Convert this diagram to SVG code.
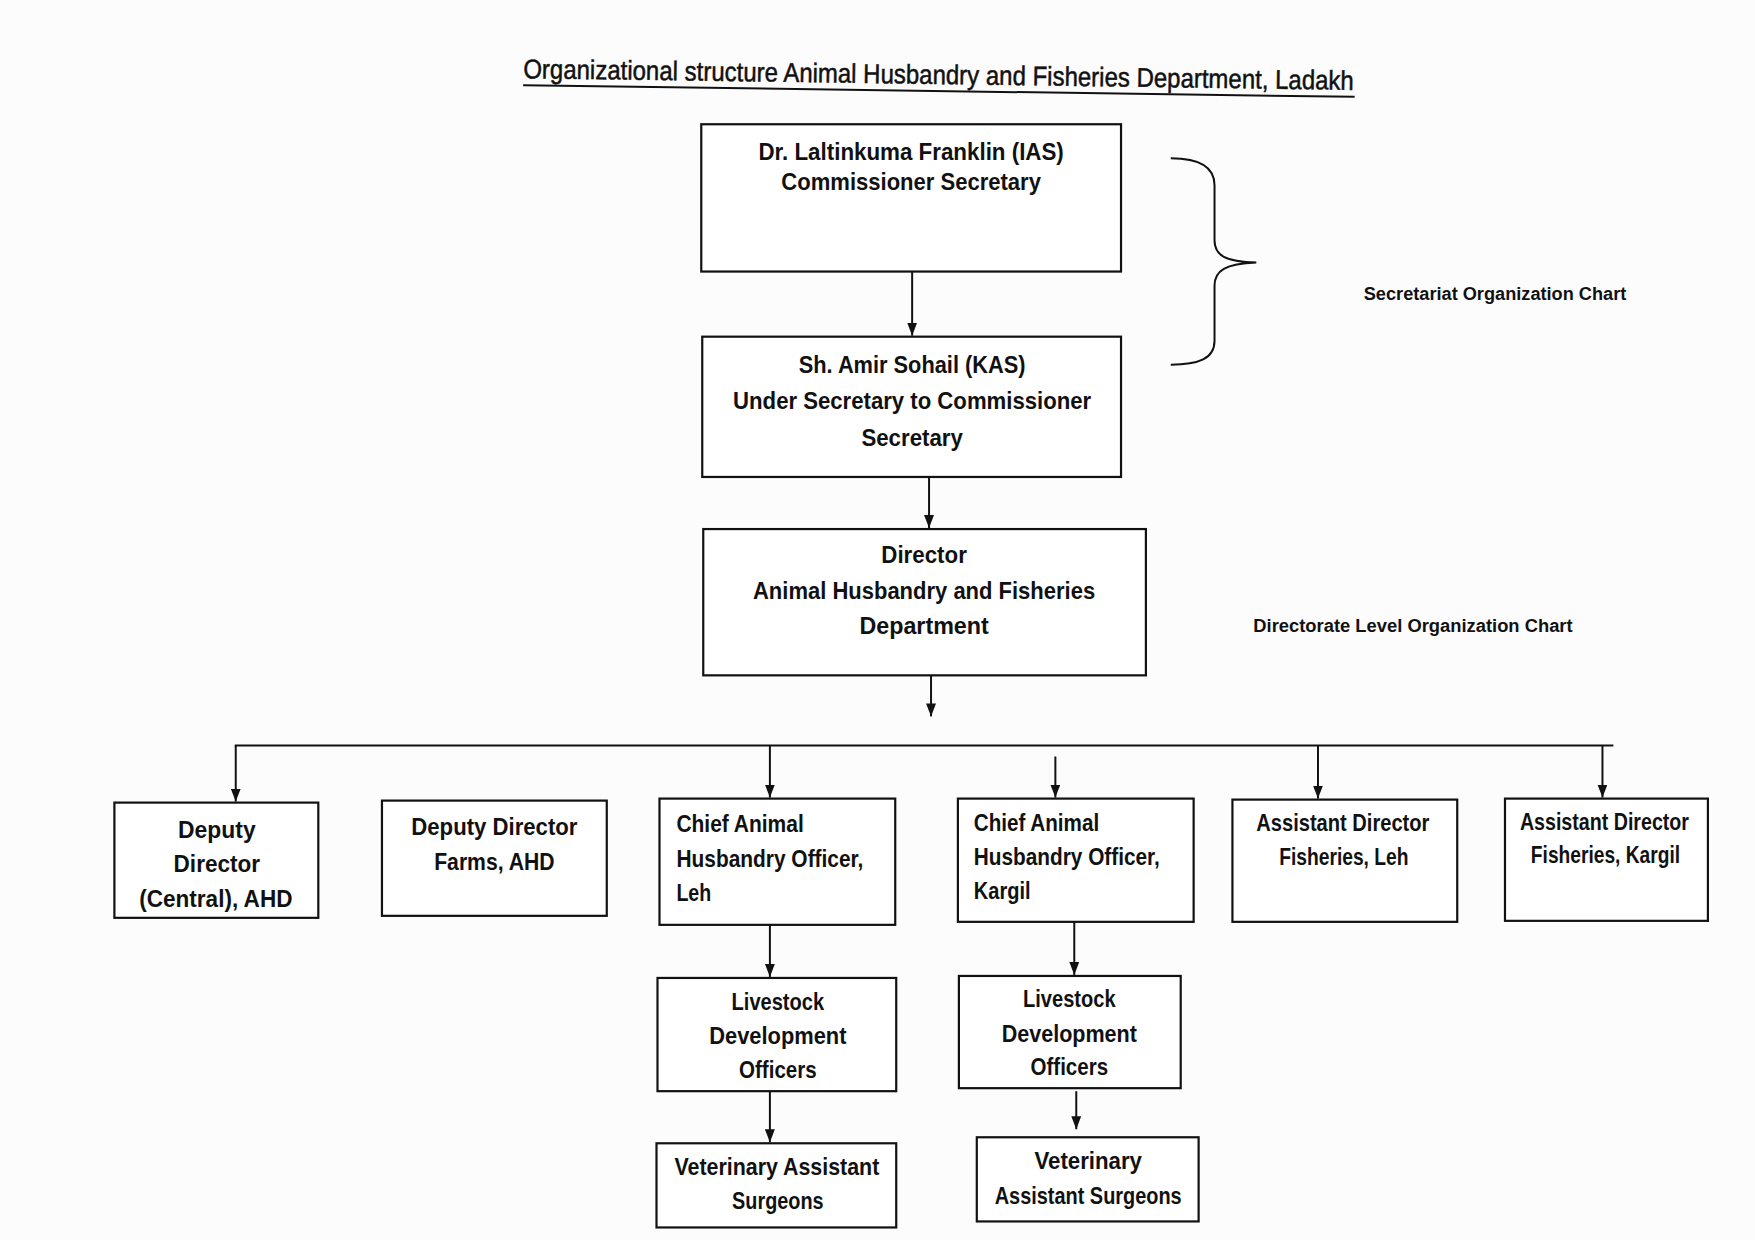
<svg xmlns="http://www.w3.org/2000/svg" width="1755" height="1240" viewBox="0 0 1755 1240">
<style>
.box{fill:#fff;stroke:#111;stroke-width:2.2}
.t{font-family:"Liberation Sans",Arial,sans-serif;font-weight:bold;font-size:23px;fill:#111}
.c{text-anchor:middle}
.lbl{font-family:"Liberation Sans",Arial,sans-serif;font-weight:bold;font-size:18px;fill:#111}
.ln{fill:none;stroke:#111;stroke-width:2}
</style>
<defs>
<marker id="ah" viewBox="0 0 13 10" refX="13" refY="5" markerWidth="13" markerHeight="10" markerUnits="userSpaceOnUse" orient="auto">
<path d="M0,0 L13,5 L0,10 z" fill="#111"/>
</marker>
</defs>
<rect width="1755" height="1240" fill="#fdfcfc"/>
<g id="chart" transform="scale(0.9947 1.002)">
<g id="title" transform="rotate(0.8 526 78)">
<text x="526" y="78" font-family="'Liberation Sans',Arial,sans-serif" font-size="27" fill="#111" stroke="#111" stroke-width="0.5" textLength="835" lengthAdjust="spacingAndGlyphs">Organizational structure Animal Husbandry and Fisheries Department, Ladakh</text>
<line x1="526" y1="85" x2="1362" y2="85" stroke="#111" stroke-width="2"/>
</g>
<g id="connectors">
<line class="ln" x1="917" y1="271" x2="917" y2="335" marker-end="url(#ah)"/>
<line class="ln" x1="934" y1="476" x2="934" y2="527" marker-end="url(#ah)"/>
<line class="ln" x1="936" y1="674" x2="936" y2="715" marker-end="url(#ah)"/>
<line class="ln" x1="236" y1="744" x2="1622" y2="744"/>
<line class="ln" x1="237" y1="744" x2="237" y2="800" marker-end="url(#ah)"/>
<line class="ln" x1="774" y1="744" x2="774" y2="796" marker-end="url(#ah)"/>
<line class="ln" x1="1061" y1="755" x2="1061" y2="796" marker-end="url(#ah)"/>
<line class="ln" x1="1325" y1="744" x2="1325" y2="797" marker-end="url(#ah)"/>
<line class="ln" x1="1611" y1="744" x2="1611" y2="796" marker-end="url(#ah)"/>
<line class="ln" x1="774" y1="923" x2="774" y2="975" marker-end="url(#ah)"/>
<line class="ln" x1="1080" y1="920" x2="1080" y2="973" marker-end="url(#ah)"/>
<line class="ln" x1="774" y1="1089" x2="774" y2="1140" marker-end="url(#ah)"/>
<line class="ln" x1="1082" y1="1089" x2="1082" y2="1127" marker-end="url(#ah)"/>
</g>
<g id="brace">
<path class="ln" d="M1177,158 C1205,158 1221,166 1221,185 L1221,240 C1221,255 1232,261 1263,262 C1232,263 1221,270 1221,285 L1221,340 C1221,358 1205,364 1177,364"/>
</g>
<g id="secretariat-label"><text class="lbl" x="1371" y="299" textLength="264" lengthAdjust="spacingAndGlyphs">Secretariat Organization Chart</text></g>
<g id="directorate-label"><text class="lbl" x="1260" y="631" textLength="321" lengthAdjust="spacingAndGlyphs">Directorate Level Organization Chart</text></g>
<g id="commissioner">
<rect class="box" x="705" y="124" width="422" height="147"/>
<text class="t c" x="916" y="160" textLength="307" lengthAdjust="spacingAndGlyphs">Dr. Laltinkuma Franklin (IAS)</text>
<text class="t c" x="916" y="190" textLength="261" lengthAdjust="spacingAndGlyphs">Commissioner Secretary</text>
</g>
<g id="under-secretary">
<rect class="box" x="706" y="336" width="421" height="140"/>
<text class="t c" x="917" y="372" textLength="228" lengthAdjust="spacingAndGlyphs">Sh. Amir Sohail (KAS)</text>
<text class="t c" x="917" y="408" textLength="360" lengthAdjust="spacingAndGlyphs">Under Secretary to Commissioner</text>
<text class="t c" x="917" y="445" textLength="102" lengthAdjust="spacingAndGlyphs">Secretary</text>
</g>
<g id="director">
<rect class="box" x="707" y="528" width="445" height="146"/>
<text class="t c" x="929" y="562" textLength="86" lengthAdjust="spacingAndGlyphs">Director</text>
<text class="t c" x="929" y="598" textLength="344" lengthAdjust="spacingAndGlyphs">Animal Husbandry and Fisheries</text>
<text class="t c" x="929" y="633" textLength="130" lengthAdjust="spacingAndGlyphs">Department</text>
</g>
<g id="dd-central">
<rect class="box" x="115" y="801" width="205" height="115"/>
<text class="t c" x="218" y="836" textLength="78" lengthAdjust="spacingAndGlyphs">Deputy</text>
<text class="t c" x="218" y="870" textLength="87" lengthAdjust="spacingAndGlyphs">Director</text>
<text class="t c" x="217" y="905" textLength="154" lengthAdjust="spacingAndGlyphs">(Central), AHD</text>
</g>
<g id="dd-farms">
<rect class="box" x="384" y="799" width="226" height="115"/>
<text class="t c" x="497" y="833" textLength="167" lengthAdjust="spacingAndGlyphs">Deputy Director</text>
<text class="t c" x="497" y="868" textLength="121" lengthAdjust="spacingAndGlyphs">Farms, AHD</text>
</g>
<g id="caho-leh">
<rect class="box" x="663" y="797" width="237" height="126"/>
<text class="t" x="680" y="830" textLength="128" lengthAdjust="spacingAndGlyphs">Chief Animal</text>
<text class="t" x="680" y="865" textLength="188" lengthAdjust="spacingAndGlyphs">Husbandry Officer,</text>
<text class="t" x="680" y="899" textLength="35" lengthAdjust="spacingAndGlyphs">Leh</text>
</g>
<g id="caho-kargil">
<rect class="box" x="963" y="797" width="237" height="123"/>
<text class="t" x="979" y="829" textLength="126" lengthAdjust="spacingAndGlyphs">Chief Animal</text>
<text class="t" x="979" y="863" textLength="187" lengthAdjust="spacingAndGlyphs">Husbandry Officer,</text>
<text class="t" x="979" y="897" textLength="57" lengthAdjust="spacingAndGlyphs">Kargil</text>
</g>
<g id="ad-fisheries-leh">
<rect class="box" x="1239" y="798" width="226" height="122"/>
<text class="t c" x="1350" y="829" textLength="174" lengthAdjust="spacingAndGlyphs">Assistant Director</text>
<text class="t c" x="1351" y="863" textLength="130" lengthAdjust="spacingAndGlyphs">Fisheries, Leh</text>
</g>
<g id="ad-fisheries-kargil">
<rect class="box" x="1513" y="797" width="204" height="122"/>
<text class="t c" x="1613" y="828" textLength="170" lengthAdjust="spacingAndGlyphs">Assistant Director</text>
<text class="t c" x="1614" y="861" textLength="150" lengthAdjust="spacingAndGlyphs">Fisheries, Kargil</text>
</g>
<g id="ldo-leh">
<rect class="box" x="661" y="976" width="240" height="113"/>
<text class="t c" x="782" y="1008" textLength="93" lengthAdjust="spacingAndGlyphs">Livestock</text>
<text class="t c" x="782" y="1042" textLength="138" lengthAdjust="spacingAndGlyphs">Development</text>
<text class="t c" x="782" y="1076" textLength="78" lengthAdjust="spacingAndGlyphs">Officers</text>
</g>
<g id="ldo-kargil">
<rect class="box" x="964" y="974" width="223" height="112"/>
<text class="t c" x="1075" y="1005" textLength="93" lengthAdjust="spacingAndGlyphs">Livestock</text>
<text class="t c" x="1075" y="1040" textLength="136" lengthAdjust="spacingAndGlyphs">Development</text>
<text class="t c" x="1075" y="1073" textLength="78" lengthAdjust="spacingAndGlyphs">Officers</text>
</g>
<g id="vas-leh">
<rect class="box" x="660" y="1141" width="241" height="84"/>
<text class="t c" x="781" y="1173" textLength="206" lengthAdjust="spacingAndGlyphs">Veterinary Assistant</text>
<text class="t c" x="782" y="1207" textLength="92" lengthAdjust="spacingAndGlyphs">Surgeons</text>
</g>
<g id="vas-kargil">
<rect class="box" x="982" y="1135" width="223" height="84"/>
<text class="t c" x="1094" y="1167" textLength="108" lengthAdjust="spacingAndGlyphs">Veterinary</text>
<text class="t c" x="1094" y="1202" textLength="188" lengthAdjust="spacingAndGlyphs">Assistant Surgeons</text>
</g>
</g>
</svg>
